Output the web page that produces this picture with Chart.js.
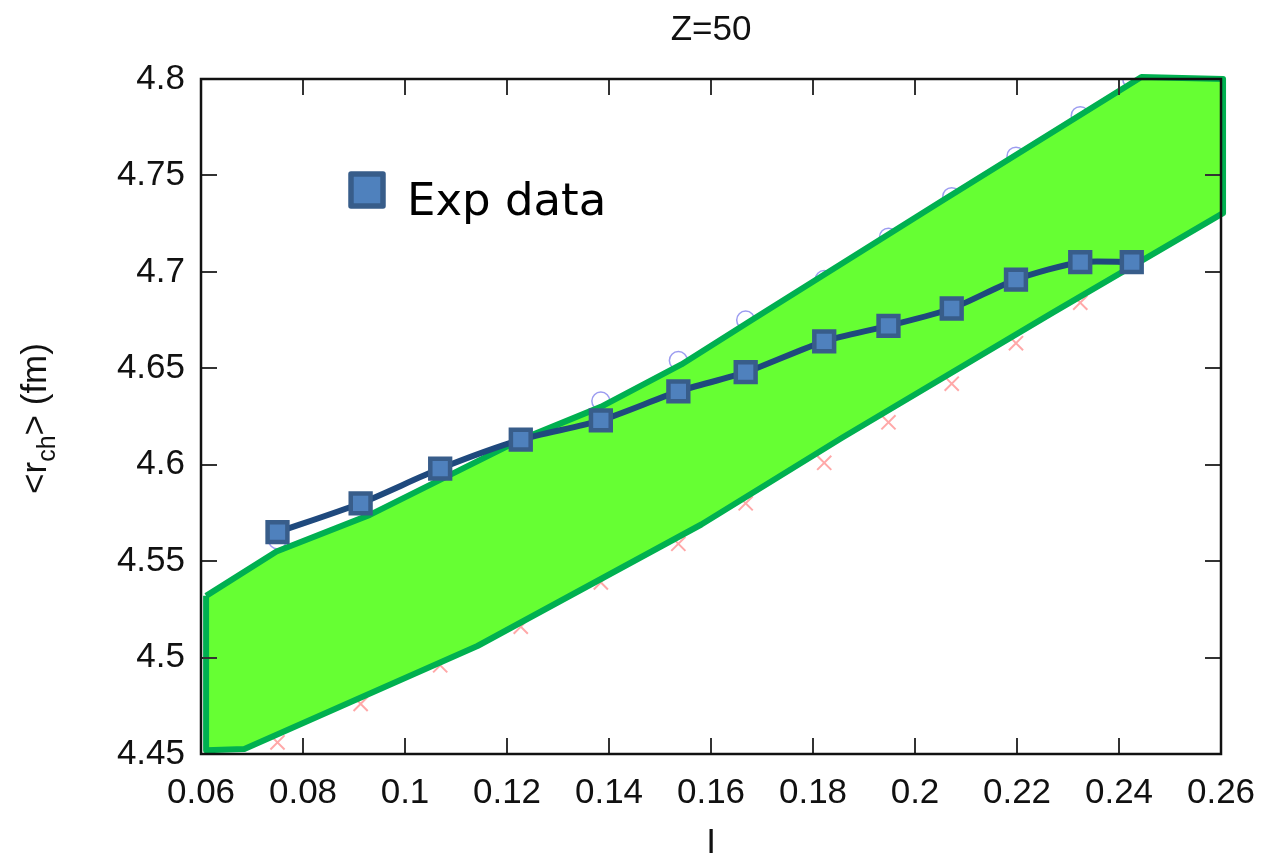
<!DOCTYPE html>
<html>
<head>
<meta charset="utf-8">
<script src="https://cdn.jsdelivr.net/npm/chart.js@4.4.1/dist/chart.umd.min.js"></script>
<style>
  html, body { margin: 0; padding: 0; background: #fff; }
  #wrap { width: 1265px; height: 855px; }
</style>
</head>
<body>
<div id="wrap"><canvas id="radiusChart" width="1265" height="855"></canvas></div>
<script>
// Z=50 charge radius vs I

const xTicks = [0.06, 0.08, 0.1, 0.12, 0.14, 0.16, 0.18, 0.2, 0.22, 0.24, 0.26];
const yTicks = [4.45, 4.5, 4.55, 4.6, 4.65, 4.7, 4.75, 4.8];

// experimental points
const expX = [0.075, 0.0913, 0.1069, 0.1227, 0.1384, 0.1536, 0.1668, 0.1822, 0.1948, 0.2072, 0.2198, 0.2324, 0.2425];
const expY = [4.565, 4.580, 4.598, 4.613, 4.623, 4.638, 4.648, 4.664, 4.672, 4.681, 4.696, 4.705, 4.705];

// faint theory markers underneath the band
const upperY = [4.561, 4.579, 4.597, 4.614, 4.633, 4.654, 4.675, 4.696, 4.718, 4.739, 4.760, 4.781, 4.800];
const lowerY = [4.456, 4.476, 4.496, 4.516, 4.539, 4.559, 4.580, 4.601, 4.622, 4.642, 4.663, 4.684, 4.704];

// green band outline (closed polygon)
const bandX = [0.061, 0.0748, 0.0931, 0.1227, 0.1384, 0.1542, 0.168, 0.2054, 0.2444, 0.2604, 0.2604, 0.2271, 0.1857, 0.1581, 0.1142, 0.0685, 0.061, 0.061];
const bandY = [4.532, 4.555, 4.574, 4.613, 4.630, 4.652, 4.675, 4.737, 4.801, 4.800, 4.7305, 4.679, 4.614, 4.569, 4.506, 4.4526, 4.452, 4.532];

const toPoints = (xs, ys) => xs.map((x, i) => ({ x: x, y: ys[i] }));

const fontFamily = '"Liberation Sans", Arial, sans-serif';

const framePlugin = {
    id: 'framePlugin',
    afterDraw(chart) {
        const ctx = chart.ctx;
        const area = chart.chartArea;
        const xs = chart.scales.x;
        const ys = chart.scales.y;
        ctx.save();

        // inward ticks on all four sides
        ctx.strokeStyle = '#333';
        ctx.lineWidth = 2;
        const tl = 16;
        ctx.beginPath();
        xTicks.forEach(v => {
            const px = Math.round(xs.getPixelForValue(v));
            ctx.moveTo(px, area.bottom); ctx.lineTo(px, area.bottom - tl);
            ctx.moveTo(px, area.top); ctx.lineTo(px, area.top + tl);
        });
        yTicks.forEach(v => {
            const py = Math.round(ys.getPixelForValue(v));
            ctx.moveTo(area.left, py); ctx.lineTo(area.left + tl, py);
            ctx.moveTo(area.right, py); ctx.lineTo(area.right - tl, py);
        });
        ctx.stroke();

        // frame
        ctx.strokeStyle = '#111';
        ctx.lineWidth = 2.5;
        ctx.strokeRect(area.left, area.top, area.right - area.left, area.bottom - area.top);

        // title
        ctx.fillStyle = '#111';
        ctx.textAlign = 'center';
        ctx.textBaseline = 'alphabetic';
        ctx.font = '35px ' + fontFamily;
        const cx = (area.left + area.right) / 2;
        ctx.fillText('Z=50', cx, 40);

        // x axis title (cut at bottom as in the original)
        ctx.fillText('I', cx, 853);

        // y axis title with subscript
        ctx.save();
        ctx.translate(46, (area.top + area.bottom) / 2 + 2);
        ctx.rotate(-Math.PI / 2);
        const big = '35px ' + fontFamily;
        const small = '25px ' + fontFamily;
        const parts = [['<r', big, 0], ['ch', small, 9], ['> (fm)', big, 0]];
        let total = 0;
        parts.forEach(p => { ctx.font = p[1]; total += ctx.measureText(p[0]).width; });
        let x = -total / 2;
        ctx.textAlign = 'left';
        parts.forEach(p => {
            ctx.font = p[1];
            ctx.fillText(p[0], x, p[2]);
            x += ctx.measureText(p[0]).width;
        });
        ctx.restore();

        // legend
        const lx = area.left + 166;
        const ly = area.top + 111;
        ctx.fillStyle = '#4F81BD';
        ctx.strokeStyle = '#385D8A';
        ctx.lineWidth = 5.5;
        ctx.lineJoin = 'round';
        ctx.fillRect(lx - 16, ly - 16, 32, 32);
        ctx.strokeRect(lx - 16, ly - 16, 32, 32);
        ctx.fillStyle = '#000';
        ctx.textAlign = 'left';
        ctx.font = '45px "DejaVu Sans", sans-serif';
        ctx.fillText('Exp data', area.left + 206, area.top + 136);

        ctx.restore();
    }
};

const ctx = document.getElementById('radiusChart').getContext('2d');
const chart = new Chart(ctx, {
    type: 'scatter',
    data: {
        datasets: [
            {
                label: 'Exp data',
                data: toPoints(expX, expY),
                showLine: true,
                borderColor: '#1F497D',
                borderWidth: 6,
                tension: 0.25,
                pointStyle: 'rect',
                pointRadius: 14,
                pointHoverRadius: 14,
                pointBackgroundColor: '#4F81BD',
                pointBorderColor: '#385D8A',
                pointBorderWidth: 4.5,
                order: 1
            },
            {
                label: 'band',
                data: toPoints(bandX, bandY),
                showLine: true,
                fill: 'shape',
                backgroundColor: '#66FF33',
                borderColor: '#00B050',
                borderWidth: 6,
                borderJoinStyle: 'round',
                tension: 0,
                pointRadius: 0,
                clip: false,
                order: 2
            },
            {
                label: 'upper',
                data: toPoints(expX, upperY),
                pointStyle: 'circle',
                pointRadius: 9,
                backgroundColor: 'rgba(0,0,0,0)',
                borderColor: 'rgba(90,90,230,0.6)',
                borderWidth: 1.5,
                order: 3
            },
            {
                label: 'lower',
                data: toPoints(expX, lowerY),
                pointStyle: 'crossRot',
                pointRadius: 10,
                borderColor: 'rgba(255,110,110,0.6)',
                borderWidth: 2,
                order: 3
            }
        ]
    },
    options: {
        responsive: false,
        animation: false,
        layout: { padding: { top: 79, right: 44, left: 0, bottom: 0 } },
        scales: {
            x: {
                type: 'linear',
                min: 0.06,
                max: 0.26,
                afterBuildTicks: scale => { scale.ticks = xTicks.map(v => ({ value: v })); },
                afterFit: scale => {
                    scale.height = 101;
                    scale.paddingLeft = 0;
                    scale.paddingRight = 0;
                },
                grid: { display: false, drawTicks: false },
                border: { display: false },
                ticks: {
                    padding: 18,
                    color: '#111',
                    font: { family: fontFamily, size: 35 },
                    callback: v => String(+v.toFixed(2))
                }
            },
            y: {
                type: 'linear',
                min: 4.45,
                max: 4.8,
                afterBuildTicks: scale => { scale.ticks = yTicks.map(v => ({ value: v })); },
                afterFit: scale => {
                    scale.width = 201;
                    scale.paddingTop = 0;
                    scale.paddingBottom = 0;
                },
                grid: { display: false, drawTicks: false },
                border: { display: false },
                ticks: {
                    padding: 16,
                    color: '#111',
                    font: { family: fontFamily, size: 35 },
                    callback: v => String(+v.toFixed(2))
                }
            }
        },
        plugins: {
            legend: { display: false },
            tooltip: { enabled: false }
        }
    },
    plugins: [framePlugin]
});
</script>
</body>
</html>
